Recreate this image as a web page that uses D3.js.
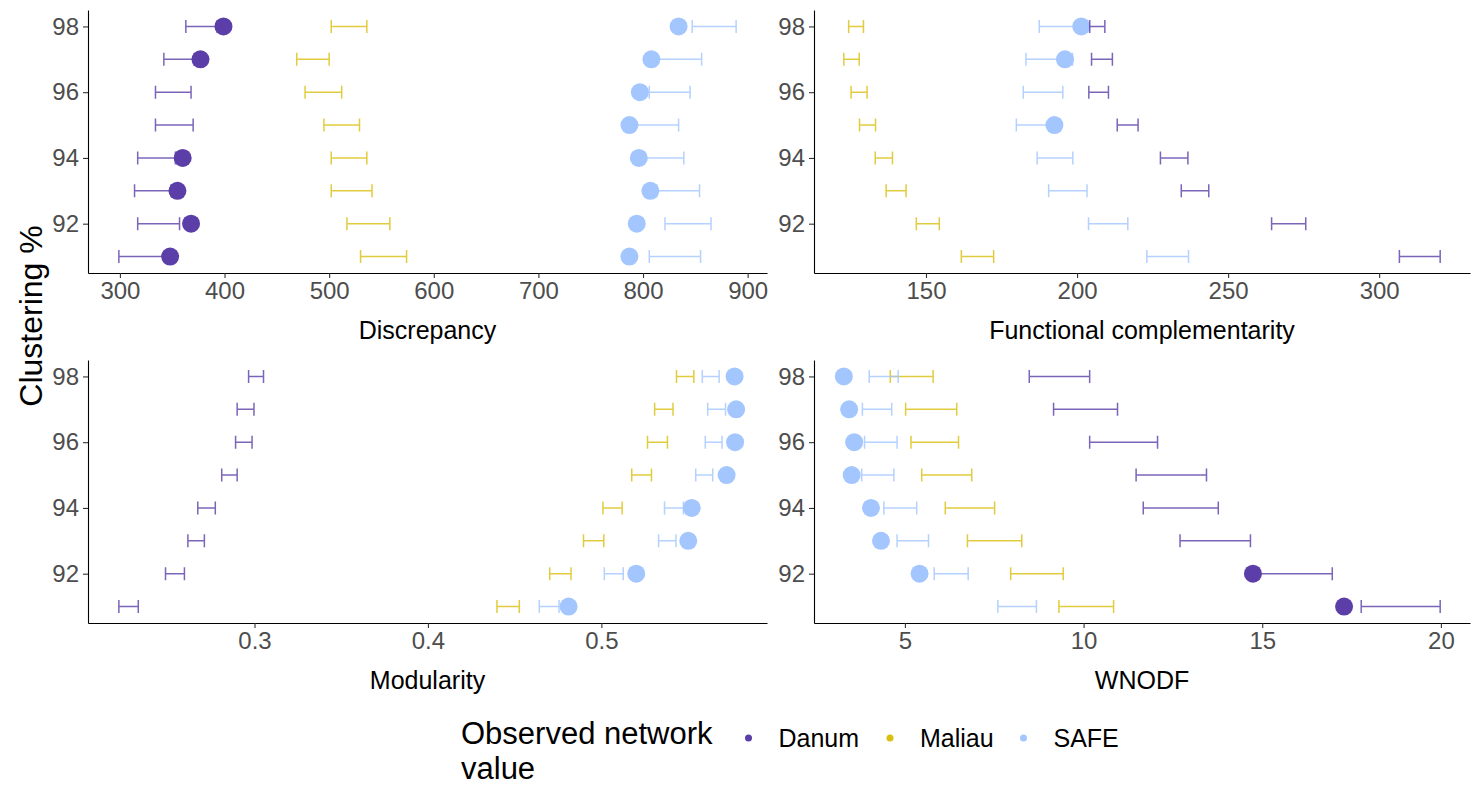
<!DOCTYPE html>
<html>
<head>
<meta charset="utf-8">
<script src="https://cdn.jsdelivr.net/npm/d3@7"></script>
<style>
  body { margin: 0; background: #fff; }
  svg { display: block; font-family: "Liberation Sans", Arial, Helvetica, sans-serif; }
</style>
</head>
<body>
<div id="chart"></div>
<script>
// ── Data (rows follow `levels`; site order follows `sites`) ──
const levels = [98, 97, 96, 95, 94, 93, 92, 91];
const yTicks = [92, 94, 96, 98];
const sites = ['Danum', 'Maliau', 'SAFE'];
const siteColors = ['#5B3EA8', '#D9BF0F', '#A3C6FF'];

const discLower = [
  [363, 342, 334, 334, 317, 314, 317, 299],
  [502, 469, 477, 495, 502, 502, 517, 530],
  [847, 812, 806, 791, 801, 813, 821, 806]
];
const discUpper = [
  [393, 371, 368, 370, 353, 349, 357, 343],
  [536, 500, 512, 529, 536, 541, 558, 574],
  [889, 856, 845, 834, 839, 854, 865, 855]
];
const discObserved = [
  [399, 377, null, null, 360, 355, 368, 348],
  [null, null, null, null, null, null, null, null],
  [834, 808, 797, 787, 796, 807, 794, 787]
];
const discTicks = [300, 400, 500, 600, 700, 800, 900];

const fcLower = [
  [204.2, 204.8, 203.9, 213.3, 227.6, 234.5, 264.4, 306.7],
  [124.4, 122.8, 125.2, 128.0, 133.2, 136.8, 146.8, 161.7],
  [187.5, 183.1, 182.2, 179.9, 186.8, 190.6, 203.8, 223.1]
];
const fcUpper = [
  [209.2, 211.7, 210.4, 220.2, 236.7, 243.6, 275.7, 320.2],
  [129.3, 127.9, 130.5, 133.3, 138.9, 143.4, 154.4, 172.4],
  [203.5, 198.5, 195.3, 194.5, 198.6, 203.3, 216.8, 236.9]
];
const fcObserved = [
  [null, null, null, null, null, null, null, null],
  [null, null, null, null, null, null, null, null],
  [201.4, 196.0, null, 192.5, null, null, null, null]
];
const fcTicks = [150, 200, 250, 300];

const modLower = [
  [0.2966, 0.2900, 0.2891, 0.2811, 0.2673, 0.2616, 0.2487, 0.2218],
  [0.5433, 0.5307, 0.5266, 0.5175, 0.5009, 0.4897, 0.4702, 0.4398],
  [0.5582, 0.5613, 0.5599, 0.5544, 0.5364, 0.5330, 0.5017, 0.4642]
];
const modUpper = [
  [0.3052, 0.2997, 0.2986, 0.2900, 0.2774, 0.2711, 0.2596, 0.2330],
  [0.5533, 0.5413, 0.5381, 0.5289, 0.5120, 0.5014, 0.4825, 0.4527],
  [0.5679, 0.5716, 0.5696, 0.5642, 0.5473, 0.5430, 0.5126, 0.4756]
];
const modObserved = [
  [null, null, null, null, null, null, null, null],
  [null, null, null, null, null, null, null, null],
  [0.5768, 0.5777, 0.5771, 0.5722, 0.5521, 0.5501, 0.5201, 0.4811]
];
const modTicks = [0.3, 0.4, 0.5];

const wnodfLower = [
  [8.48, 9.16, 10.17, 11.47, 11.67, 12.70, 14.90, 17.77],
  [4.59, 5.02, 5.17, 5.47, 6.13, 6.75, 7.96, 9.31],
  [4.00, 3.81, 3.87, 3.79, 4.41, 4.78, 5.82, 7.60]
];
const wnodfUpper = [
  [10.17, 10.95, 12.07, 13.44, 13.77, 14.67, 16.96, 19.98],
  [5.79, 6.45, 6.50, 6.87, 7.51, 8.27, 9.43, 10.84],
  [4.81, 4.63, 4.78, 4.69, 5.33, 5.66, 6.77, 8.68]
];
const wnodfObserved = [
  [null, null, null, null, null, null, 14.74, 17.29],
  [null, null, null, null, null, null, null, null],
  [3.29, 3.44, 3.58, 3.51, 4.05, 4.33, 5.41, null]
];
const wnodfTicks = [5, 10, 15, 20];

// ── Panels ──
const panels = [
  { title: 'Discrepancy', lower: discLower, upper: discUpper, obs: discObserved, ticks: discTicks, x0: 88, x1: 767, y0: 10, y1: 273 },
  { title: 'Functional complementarity', lower: fcLower, upper: fcUpper, obs: fcObserved, ticks: fcTicks, x0: 814, x1: 1470, y0: 10, y1: 273 },
  { title: 'Modularity', lower: modLower, upper: modUpper, obs: modObserved, ticks: modTicks, x0: 88, x1: 767, y0: 360, y1: 623 },
  { title: 'WNODF', lower: wnodfLower, upper: wnodfUpper, obs: wnodfObserved, ticks: wnodfTicks, x0: 814, x1: 1470, y0: 360, y1: 623 }
];

const W = 1479, H = 787;
const svg = d3.select('#chart').append('svg')
  .attr('width', W)
  .attr('height', H);

panels.forEach(p => {
  const all = [...p.lower.flat(), ...p.upper.flat(), ...p.obs.flat().filter(v => v != null)];
  const [mn, mx] = d3.extent(all);
  const pad = (mx - mn) * 0.05;
  const x = d3.scaleLinear().domain([mn - pad, mx + pad]).range([p.x0, p.x1]);
  const y = d3.scaleLinear().domain([90.5, 98.5]).range([p.y1, p.y0]);

  const g = svg.append('g');

  // Observed points
  sites.forEach((s, si) => {
    g.append('g').selectAll('circle')
      .data(levels.map((lv, i) => ({ lv, v: p.obs[si][i] })).filter(d => d.v != null))
      .join('circle')
      .attr('cx', d => x(d.v))
      .attr('cy', d => y(d.lv))
      .attr('r', 9)
      .attr('fill', siteColors[si]);
  });

  // Error bars
  sites.forEach((s, si) => {
    const rows = levels.map((lv, i) => ({ lv, lo: p.lower[si][i], hi: p.upper[si][i] }));
    const eb = g.append('g')
      .attr('stroke', siteColors[si])
      .attr('stroke-opacity', 0.8)
      .attr('stroke-width', 1.5)
      .attr('fill', 'none');
    eb.selectAll('path')
      .data(rows)
      .join('path')
      .attr('d', d => {
        const yy = y(d.lv), a = x(d.lo), b = x(d.hi), c = 6.5;
        return `M${a},${yy - c}V${yy + c}M${a},${yy}H${b}M${b},${yy - c}V${yy + c}`;
      });
  });

  // Axes
  const xAxis = g.append('g')
    .attr('transform', `translate(0,${p.y1})`)
    .call(d3.axisBottom(x).tickValues(p.ticks).tickSize(5).tickSizeOuter(0).tickPadding(4).tickFormat(d3.format('')));
  const yAxis = g.append('g')
    .attr('transform', `translate(${p.x0},0)`)
    .call(d3.axisLeft(y).tickValues(yTicks).tickSize(5).tickSizeOuter(0).tickPadding(4));

  [xAxis, yAxis].forEach(ax => {
    ax.select('.domain').attr('stroke', '#000').attr('stroke-width', 1.1);
    ax.selectAll('.tick line').attr('stroke', '#333').attr('stroke-width', 1.1);
    ax.selectAll('.tick text')
      .attr('fill', '#4D4D4D')
      .attr('font-size', '24px')
      .attr('font-family', '"Liberation Sans", Arial, sans-serif');
  });

  g.append('text')
    .attr('x', (p.x0 + p.x1) / 2)
    .attr('y', p.y1 + 66)
    .attr('text-anchor', 'middle')
    .attr('font-size', '25px')
    .attr('fill', '#000')
    .text(p.title);
});

// Shared y title
svg.append('text')
  .attr('transform', 'translate(42,316) rotate(-90)')
  .attr('text-anchor', 'middle')
  .attr('font-size', '32px')
  .attr('fill', '#000')
  .text('Clustering %');

// Legend
const legend = svg.append('g');
legend.append('text')
  .attr('x', 461)
  .attr('font-size', '31px')
  .attr('fill', '#000')
  .call(t => {
    t.append('tspan').attr('x', 461).attr('y', 744).text('Observed network');
    t.append('tspan').attr('x', 461).attr('y', 779).text('value');
  });

const legendKeyX = [748.5, 890, 1023.5];
sites.forEach((s, si) => {
  legend.append('circle')
    .attr('cx', legendKeyX[si])
    .attr('cy', 738)
    .attr('r', 3.5)
    .attr('fill', siteColors[si]);
  legend.append('text')
    .attr('x', legendKeyX[si] + 30)
    .attr('y', 747)
    .attr('font-size', '25px')
    .attr('fill', '#000')
    .text(s);
});
</script>
</body>
</html>
